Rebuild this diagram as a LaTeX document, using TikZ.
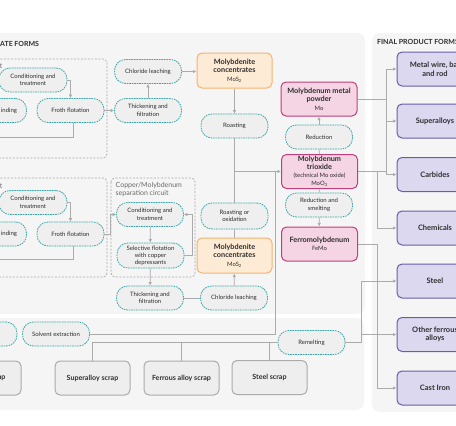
\documentclass[tikz,border=0pt]{standalone}
\usepackage{fontspec}
\setmainfont{Lato}
\usetikzlibrary{arrows.meta}

\definecolor{panelgray}{HTML}{F5F5F5}
\definecolor{procfill}{HTML}{EFEFEF}
\definecolor{procline}{HTML}{3FA9AA}
\definecolor{concfill}{HTML}{FDEBD5}
\definecolor{concline}{HTML}{F3B370}
\definecolor{oxfill}{HTML}{F5D4E4}
\definecolor{oxline}{HTML}{BF3E7C}
\definecolor{prodfill}{HTML}{DCD8EF}
\definecolor{prodline}{HTML}{6B5CA5}
\definecolor{scrapfill}{HTML}{EEEEEE}
\definecolor{scrapline}{HTML}{ABABAB}
\definecolor{linegray}{HTML}{ABABAB}
\definecolor{txt}{HTML}{2E2E2E}
\definecolor{grouptxt}{HTML}{6A6A6A}

\newcommand{\subline}[1]{{\fontsize{5.9}{7}\selectfont\mdseries #1}}

\begin{document}
\begin{tikzpicture}[x=1pt, y=-1pt,
    proc/.style={draw=procline, dash pattern=on 1.6pt off 0.9pt, line width=0.8pt,
        fill=procfill, rounded corners=11pt, minimum width=67pt, minimum height=24pt,
        inner sep=0.5pt, align=center, text=txt, font=\fontsize{6}{7.4}\selectfont},
    conc/.style={draw=concline, line width=1pt, fill=concfill, rounded corners=5pt,
        minimum width=75pt, minimum height=35pt, inner sep=0.5pt, align=center, text=txt,
        font=\fontsize{7.3}{8.6}\selectfont\bfseries},
    oxide/.style={conc, draw=oxline, fill=oxfill, minimum width=76pt, minimum height=34pt},
    product/.style={draw=prodline, line width=1pt, fill=prodfill, rounded corners=5pt,
        minimum width=76pt, minimum height=34pt, inner sep=1pt, align=center, text=txt,
        font=\fontsize{7.5}{8.6}\selectfont\bfseries},
    scrap/.style={draw=scrapline, line width=1pt, fill=scrapfill, rounded corners=5pt,
        minimum width=75pt, minimum height=34pt, inner sep=1pt, align=center, text=txt,
        font=\fontsize{7.1}{8}\selectfont\bfseries},
    group/.style={draw=linegray, dash pattern=on 2pt off 1.5pt, line width=0.7pt, rounded corners=4pt},
    grouplbl/.style={text=grouptxt, align=left, inner sep=0pt, font=\fontsize{7}{8.2}\selectfont},
    title/.style={text=txt, inner sep=0pt, font=\fontsize{7}{8}\selectfont\bfseries},
    link/.style={draw=linegray, line width=0.8pt},
    arr/.style={link, -{Latex[length=3.5pt,width=3.5pt]}}]

    \useasboundingbox (0,0) rectangle (456,426);
    \clip (0,0) rectangle (456,426);
    \fill[white] (0,0) rectangle (456,426);

    % Background panels
    \fill[panelgray, rounded corners=8pt] (-20,33) rectangle (365,314);
    \fill[panelgray, rounded corners=8pt] (-20,318) rectangle (364,410);
    \fill[panelgray, rounded corners=8pt] (372,33) rectangle (480,412);
    \node[title, anchor=west] (ttlmid) at (0,44) {ATE FORMS};
    \node[title, anchor=west] (ttlfinal) at (377,42) {FINAL PRODUCT FORMS};

    % Dashed circuits
    \draw[group] (-20,59) rectangle (107,158);
    \draw[group] (-20,178) rectangle (107,277);
    \draw[group] (111,178) rectangle (195,277);
    \node[grouplbl, anchor=east] (lbltop) at (2.5,66) {t};
    \node[grouplbl, anchor=east] (lblbot) at (2.5,186) {t};
    \node[grouplbl, anchor=north west] (lblcu) at (115.5,182) {Copper/Molybdenum\\separation circuit};

    % Upper circuit
    \node[proc, minimum width=68pt] (cond1) at (33,80) {Conditioning and\\treatment};
    \node[proc, minimum width=43pt] (grind1) at (5,110.5) {};
    \node[proc, draw=none, fill=none, anchor=east, minimum width=0pt] (grind1txt) at (18,110.5) {inding};
    \node[proc] (froth1) at (70.5,110.5) {Froth flotation};
    \node[proc] (thick1) at (148,110.5) {Thickening and\\filtration};
    \node[proc] (chlor1) at (148,71.5) {Chloride leaching};
    \node[conc] (moly1) at (234.5,70.5) {Molybdenite\\concentrates\\\subline{MoS\textsubscript{2}}};
    \node[proc] (roast1) at (234.5,126) {Roasting};

    % Lower circuit
    \node[proc, minimum width=68pt] (cond2) at (33,202.5) {Conditioning and\\treatment};
    \node[proc, minimum width=43pt] (grind2) at (5,234) {};
    \node[proc, draw=none, fill=none, anchor=east, minimum width=0pt] (grind2txt) at (18,234) {inding};
    \node[proc] (froth2) at (70.5,234) {Froth flotation};
    \node[proc] (condcu) at (150,214.5) {Conditioning and\\treatment};
    \node[proc, minimum height=25pt, font=\fontsize{6}{7.1}\selectfont] (selfl) at (150.5,255.5) {Selective flotation\\with copper\\depressants};
    \node[proc] (thick2) at (150,298) {Thickening and\\filtration};
    \node[proc] (chlor2) at (234,298) {Chloride leaching};
    \node[conc] (moly2) at (234.5,255.5) {Molybdenite\\concentrates\\\subline{MoS\textsubscript{2}}};
    \node[proc, minimum height=26pt] (roast2) at (234.5,216) {Roasting or\\oxidation};

    % Molybdenum products
    \node[oxide] (powder) at (319,99) {Molybdenum metal\\powder\\\subline{Mo}};
    \node[proc] (reduc) at (319,137) {Reduction};
    \node[oxide, font=\fontsize{7.3}{8.2}\selectfont\bfseries] (trioxide) at (319.5,171.5)
        {Molybdenum\\trioxide\\\subline{(technical Mo oxide)}\\\subline{MoO\textsubscript{3}}};
    \node[proc] (smelt) at (319,205) {Reduction and\\smelting};
    \node[oxide] (ferro) at (319.5,244) {Ferromolybdenum\\\subline{FeMo}};

    % Recycling
    \node[proc, minimum width=50pt] (extract0) at (-8,334) {};
    \node[proc] (solv) at (56,334) {Solvent extraction};
    \node[proc] (remelt) at (311.5,342.5) {Remelting};
    \node[scrap, minimum width=82pt] (mscrap) at (-20,378) {};
    \node[scrap, draw=none, fill=none, anchor=east, minimum width=0pt] (mscraptxt) at (7,378) {ap};
    \node[scrap] (superscrap) at (92.5,378) {Superalloy scrap};
    \node[scrap] (ferrscrap) at (181.5,378) {Ferrous alloy scrap};
    \node[scrap] (steelscrap) at (269.5,377.5) {Steel scrap};

    % Final products
    \foreach \name/\y/\label in {wire/69/{Metal wire, bar\\and rod}, super/121/Superalloys,
        carb/174.5/Carbides, chem/228/Chemicals, steel/281/Steel,
        other/334.5/{Other ferrous\\alloys}, cast/388/Cast Iron} {
        \node[product] (\name) at (435,\y) {\label};
    }

    % Upper circuit links
    \coordinate (loop1) at (-5,137);
    \coordinate (loop2) at (-5,259);
    \draw[arr] (cond1.east) -| (froth1.north);
    \draw[link] ([xshift=2.5pt]froth1.south) |- (loop1);
    \draw[arr] (froth1) -- (thick1);
    \draw[arr] (thick1) -- (chlor1);
    \draw[arr] (chlor1.east) -- (chlor1.east -| moly1.west);
    \draw[arr] (moly1) -- (roast1);
    \draw[arr] (roast1.south) |- (trioxide.west);

    % Lower circuit links
    \draw[arr] (cond2.east) -| (froth2.north);
    \draw[link] ([xshift=2.5pt]froth2.south) |- (loop2);
    \draw[arr] (froth2.east) -- ++(6,0) |- (condcu.west);
    \draw[arr] (condcu) -- (selfl);
    \draw[arr] (selfl.east) -- ++(8,0) |- (condcu.east);
    \draw[arr] (selfl) -- (thick2);
    \draw[link] (thick2) -- (chlor2);
    \draw[arr] (chlor2) -- (moly2);
    \draw[link] (moly2) -- (roast2);
    \draw[link] (roast2.north) -- (roast2.north |- trioxide.west);

    % Oxide links
    \draw[link] (trioxide) -- (reduc);
    \draw[arr] (reduc) -- (powder);
    \draw[link] (trioxide) -- (smelt);
    \draw[arr] (smelt) -- (ferro);

    % Recycling links
    \coordinate (rise) at (275,0);
    \draw[link] (solv.east) -| (rise |- trioxide.west);
    \draw[link] (superscrap.north) |- (remelt.west);
    \draw[link] (ferrscrap.north) -- (ferrscrap.north |- remelt.west);
    \draw[link] (steelscrap.north) -- (steelscrap.north |- remelt.west);

    % Links to final products
    \coordinate (fork1) at (386,0);
    \coordinate (fork2) at (377,0);
    \coordinate (fork3) at (361,0);
    \draw[link] (powder.east) -- (powder.east -| fork1);
    \draw[link] (fork1 |- wire.west) -- (fork1 |- carb.west);
    \foreach \p in {wire, super, carb} {
        \draw[arr] (fork1 |- \p.west) -- (\p.west);
    }
    \draw[link] (trioxide.east) -- (trioxide.east -| fork1);
    \draw[arr] (trioxide.east -| fork2) |- (chem.west);
    \draw[arr] (ferro.east) -| (fork2 |- cast.west) -- (cast.west);
    \draw[arr] (remelt.east) -| (fork3 |- steel.west) -- (steel.west);
    \draw[arr] (fork3 |- other.west) -- (other.west);
\end{tikzpicture}
\end{document}
